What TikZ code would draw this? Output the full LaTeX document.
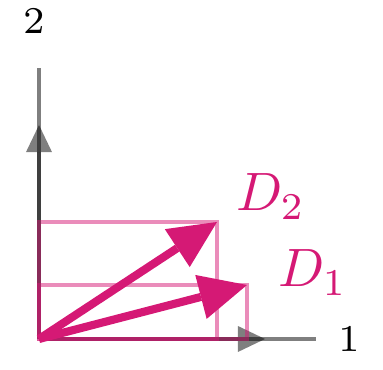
\documentclass[tikz,border=0pt]{standalone}
\usepackage{tikz}
\usetikzlibrary{arrows.meta}
\definecolor{dmag}{RGB}{213,25,117}

\begin{document}
\begin{tikzpicture}[
    x=0.185pt, y=0.185pt,
    axis/.style={black, opacity=0.5, line width=0.9pt},
    axisarrow/.style={axis, -{Triangle[length=5pt, width=4.8pt, line width=0pt]}},
    box/.style={dmag, opacity=0.5, line width=0.8pt},
    vec/.style={dmag, line width=1.5pt, -{Triangle[length=8.8pt, width=8.4pt, line width=0pt]}},
    every node/.style={inner sep=0pt}
]
\useasboundingbox (-39,-31) rectangle (344,339);
% Define points
\coordinate (O) at (0,0);
\coordinate (xend) at (277,0);
\coordinate (xtip) at (226,0);
\coordinate (yend) at (0,271);
\coordinate (ytip) at (0,214);
\coordinate (d1) at (208,54);
\coordinate (d2) at (178,117);
\node (lab1) at (310,0) {\scriptsize $1$};
\node (lab2) at (-5,318) {\scriptsize $2$};
\node (labD1) [anchor=base west, text=dmag] at (238,52) {$D_1$};
\node (labD2) [anchor=base west, text=dmag] at (196,128) {$D_2$};
% Draw axes
\draw[axis] (O) -- (xend);
\draw[axis] (O) -- (yend);
\draw[axisarrow] (O) -- (xtip);
\draw[axisarrow] (O) -- (ytip);
% Draw boxes
\draw[box] (O) rectangle (d1);
\draw[box] (O) rectangle (d2);
% Draw vectors
\draw[vec] (O) -- (d1);
\draw[vec] (O) -- (d2);
\end{tikzpicture}
\end{document}
